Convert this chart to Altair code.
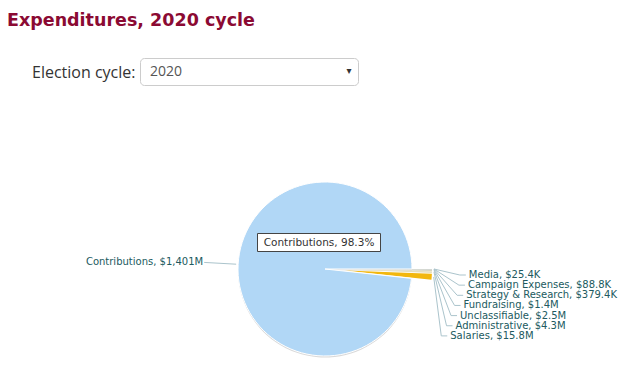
import altair as alt
import pandas as pd

title_text = "Expenditures, 2020 cycle"
selector_label = "Election cycle:"
selector_value = "2020"

categories = ["Media", "Campaign Expenses", "Strategy & Research", "Fundraising",
              "Unclassifiable", "Administrative", "Salaries", "Contributions"]
amounts = [25.4e3, 88.8e3, 379.4e3, 1.4e6, 2.5e6, 4.3e6, 15.8e6, 1401e6]
colors = ["#97a4a8", "#9ea9ab", "#a8b1b0", "#bcc2b8", "#d6d4bc", "#e6dfbd", "#f2b70e", "#b1d7f6"]

df = pd.DataFrame({"cat": categories, "v": amounts, "order": list(range(len(categories)))})

CX, CY, R = 317, 261, 87
LR = 124

base = (
    alt.Chart(df)
    .transform_joinaggregate(total="sum(v)")
    .transform_window(cum="sum(v)", idx="row_number()", sort=[alt.SortField("order")], frame=[None, 0])
    .transform_calculate(
        a0="PI/2 + 2*PI*(datum.cum - datum.v)/datum.total",
        a1="PI/2 + 2*PI*datum.cum/datum.total",
    )
    .transform_calculate(mid="(datum.a0 + datum.a1)/2",
                         off="datum.cat == 'Contributions' ? 0 : 20",
                         pct="100*datum.v/datum.total")
    .transform_calculate(
        cxo=f"{CX} + datum.off*sin(datum.mid)",
        cyo=f"{CY} - datum.off*cos(datum.mid)",
        side="sin(datum.mid) < 0 ? -1 : 1",
        vlab="datum.v >= 1e8 ? '$' + format(datum.v/1e6, ',.0f') + 'M' : (datum.v >= 1e6 ? '$' + format(datum.v/1e6, '.1f') + 'M' : '$' + format(datum.v/1e3, '.1f') + 'K')",
    )
    .transform_calculate(
        ly="datum.side > 0 ? 267 + 10.15*(datum.idx - 1) : datum.cyo - 122*cos(datum.mid)",
        sx=f"datum.cxo + {R + 2}*sin(datum.mid)",
        sy=f"datum.cyo - {R + 2}*cos(datum.mid)",
        label="datum.cat + ', ' + datum.vlab",
        tip="datum.cat + ', ' + format(datum.pct, '.1f') + '%'",
    )
    .transform_calculate(
        lx=f"datum.cxo + datum.side*sqrt({LR}*{LR} - pow(datum.ly - datum.cyo, 2))",
    )
    .transform_calculate(
        bx="datum.lx - datum.side*9",
        ex="datum.lx - datum.side*3",
        tx="datum.side > 0 ? datum.lx : datum.lx + 2",
    )
)

color_scale = alt.Scale(domain=categories, range=colors)
xs = lambda f: alt.X(f, scale=None, axis=None)
ys = lambda f: alt.Y(f, scale=None, axis=None)

shadow = base.transform_filter("datum.cat == 'Contributions'").transform_calculate(
    sh_y="datum.cyo + 1.5").mark_arc(radius=R, fill="#d9d9d9").encode(
    theta=alt.Theta("a0:Q", scale=None), theta2="a1:Q",
    x=xs("cxo:Q"), y=ys("sh_y:Q"))

pie = base.mark_arc(radius=R, stroke="white").encode(
    theta=alt.Theta("a0:Q", scale=None), theta2="a1:Q",
    x=xs("cxo:Q"), y=ys("cyo:Q"),
    fill=alt.Fill("cat:N", scale=color_scale, legend=None),
    strokeWidth=alt.condition("datum.cat == 'Contributions'", alt.value(1), alt.value(0)),
)

conn_color = "#abc4cc"
conn1 = base.transform_filter("datum.side > 0").mark_rule(color=conn_color, strokeWidth=1).encode(
    x=xs("sx:Q"), y=ys("sy:Q"), x2="bx:Q", y2="ly:Q")
conn2 = base.transform_filter("datum.side > 0").mark_rule(color=conn_color, strokeWidth=1).encode(
    x=xs("bx:Q"), y=ys("ly:Q"), x2="ex:Q", y2="ly:Q")
conn_left = base.transform_filter("datum.side < 0").mark_rule(color=conn_color, strokeWidth=1).encode(
    x=xs("sx:Q"), y=ys("sy:Q"), x2="ex:Q", y2="ly:Q")

lab_color = "#215a60"
labels_r = base.transform_filter("datum.side > 0").mark_text(
    align="left", baseline="middle", font="DejaVu Sans", fontSize=10, color=lab_color).encode(
    x=xs("tx:Q"), y=ys("ly:Q"), text="label:N")
labels_l = base.transform_filter("datum.side < 0").mark_text(
    align="right", baseline="middle", font="DejaVu Sans", fontSize=10, color=lab_color).encode(
    x=xs("tx:Q"), y=ys("ly:Q"), text="label:N")

tip_box = base.transform_filter("datum.cat == 'Contributions'").mark_rect(
    fill="white", stroke="#444", strokeWidth=1).encode(
    x=alt.value(249.5), x2=alt.value(372.5), y=alt.value(225.5), y2=alt.value(243.5))
tip_text = base.transform_filter("datum.cat == 'Contributions'").mark_text(
    align="center", baseline="middle", font="DejaVu Sans", fontSize=10.5, color="#333").encode(
    x=alt.value(311), y=alt.value(234.5), text="tip:N")

ui = pd.DataFrame({"t": [title_text], "lab": [selector_label], "val": [selector_value], "arrow": ["▾"]})
ui_base = alt.Chart(ui)
title = ui_base.mark_text(align="left", baseline="alphabetic", font="DejaVu Sans", fontWeight="bold",
                          fontSize=17.5, color="#8b0a33").encode(
    x=alt.value(-1), y=alt.value(18), text="t:N")
sel_label = ui_base.mark_text(align="left", baseline="middle", font="Open Sans", fontSize=16,
                              color="#333").encode(x=alt.value(24), y=alt.value(65), text="lab:N")
sel_box = ui_base.mark_rect(fill="white", stroke="#cccccc", strokeWidth=1, cornerRadius=4).encode(
    x=alt.value(132.5), x2=alt.value(350.5), y=alt.value(50.5), y2=alt.value(77.5))
sel_val = ui_base.mark_text(align="left", baseline="middle", font="Open Sans", fontSize=14,
                            color="#555").encode(x=alt.value(142), y=alt.value(64), text="val:N")
sel_arrow = ui_base.mark_text(align="center", baseline="middle", font="DejaVu Sans", fontSize=10,
                              color="#333").encode(x=alt.value(341), y=alt.value(63), text="arrow:N")

chart = alt.layer(
    title, sel_box, sel_label, sel_val, sel_arrow,
    shadow, pie, conn1, conn2, conn_left, labels_r, labels_l, tip_box, tip_text,
).properties(
    width=620, height=365, autosize=alt.AutoSizeParams(type="none"), padding=0,
).configure_view(stroke=None).resolve_scale(x="independent", y="independent")

chart.save("out.html", embed_options={"renderer": "svg", "actions": False})
